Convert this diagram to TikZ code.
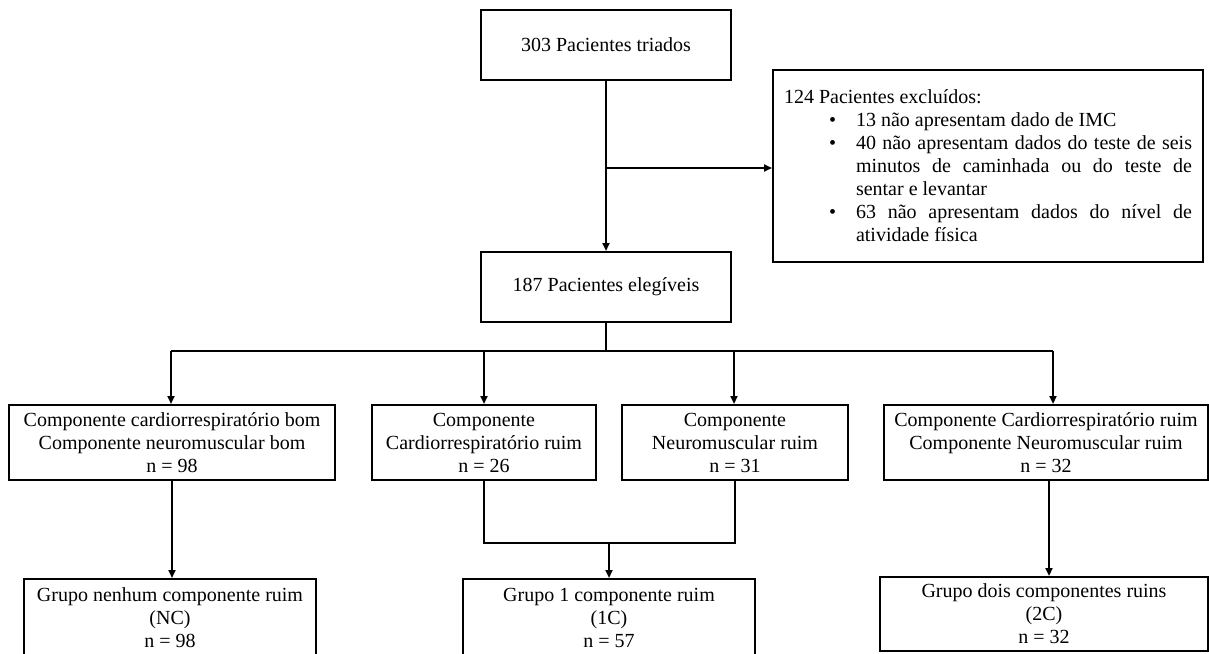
\documentclass[tikz,border=0pt]{standalone}
\usepackage{fontspec}
\setmainfont{Liberation Serif}
\usetikzlibrary{arrows.meta}
\begin{document}
\begin{tikzpicture}[x=1pt,y=-1pt,
  every node/.style={font=\fontsize{20}{23}\selectfont},
  box/.style={draw, line width=2pt, align=center, inner sep=2pt},
  conn/.style={line width=2pt},
  arr/.style={conn, -{Triangle[length=8pt,width=7pt]}}]
\useasboundingbox (0,0) rectangle (1209,653);

\node[box, minimum width=250pt, minimum height=70pt] (top) at (606,45) {303 Pacientes triados};
\node[box, minimum width=250pt, minimum height=70pt] (elig) at (606,287) {187 Pacientes elegíveis};
\node[box, text width=408pt, inner xsep=11pt, minimum height=192pt, align=justify] (excl) at (988,166) {%
\tolerance=10000\hyphenpenalty=10000
124 Pacientes excluídos:
\begin{list}{\textbullet}{\setlength{\leftmargin}{72pt}\setlength{\labelwidth}{8pt}\setlength{\labelsep}{20pt}%
\setlength{\itemsep}{0pt}\setlength{\topsep}{0pt}\setlength{\parsep}{0pt}\setlength{\partopsep}{0pt}}
\item 13 não apresentam dado de IMC
\item 40 não apresentam dados do teste de seis\linebreak minutos de caminhada ou do teste de\linebreak sentar e levantar
\item 63 não apresentam dados do nível de\linebreak atividade física
\end{list}};

\node[box, minimum width=326pt, minimum height=75pt] (b1) at (172,442.5) {Componente cardiorrespiratório bom\\Componente neuromuscular bom\\n = 98};
\node[box, minimum width=224pt, minimum height=75pt] (b2) at (484,442.5) {Componente\\Cardiorrespiratório ruim\\n = 26};
\node[box, minimum width=226pt, minimum height=75pt] (b3) at (735,442.5) {Componente\\Neuromuscular ruim\\n = 31};
\node[box, minimum width=324pt, minimum height=75pt] (b4) at (1046,442.5) {Componente Cardiorrespiratório ruim\\Componente Neuromuscular ruim\\n = 32};

\node[box, minimum width=292pt, minimum height=78pt] (g1) at (170,618) {Grupo nenhum componente ruim\\(NC)\\n = 98};
\node[box, minimum width=292pt, minimum height=78pt] (g2) at (609,618) {Grupo 1 componente ruim\\(1C)\\n = 57};
\node[box, minimum width=328pt, minimum height=74pt] (g3) at (1044,614) {Grupo dois componentes ruins\\(2C)\\n = 32};

% top to eligible with exclusion branch
\draw[arr] (top.south) -- (elig.north);
\coordinate (br) at (606,168);
\draw[arr] (br) -- (br -| excl.west);

% split to four
\coordinate (sp) at (606,351);
\coordinate (s1) at (171,351);
\coordinate (s2) at (484,351);
\coordinate (s3) at (734,351);
\coordinate (s4) at (1053,351);
\draw[conn] (elig.south) -- (sp);
\draw[conn] (s1) -- (s4);
\draw[arr] (s1) -- (s1 |- b1.north);
\draw[arr] (s2) -- (s2 |- b2.north);
\draw[arr] (s3) -- (s3 |- b3.north);
\draw[arr] (s4) -- (s4 |- b4.north);

% to groups
\draw[arr] (b1.south) -- (b1.south |- g1.north);
\coordinate (m) at (609,543);
\draw[conn] (b2.south) -- (b2.south |- m) -- (b3.south |- m) -- (b3.south);
\draw[arr] (m) -- (g2.north);
\coordinate (r4) at (1049,480);
\draw[arr] (r4) -- (r4 |- g3.north);
\end{tikzpicture}
\end{document}
